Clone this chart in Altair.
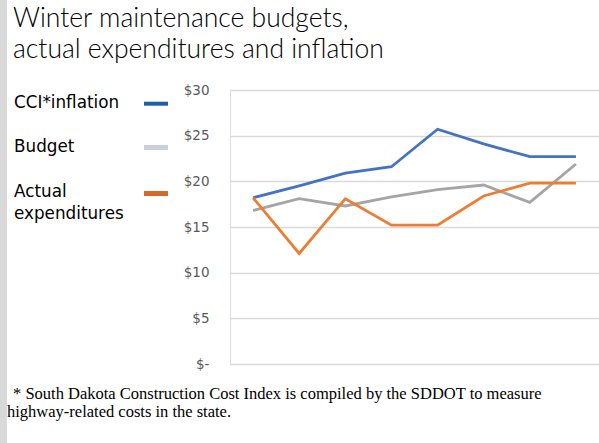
import altair as alt
import pandas as pd

periods = ["1", "2", "3", "4", "5", "6", "7", "8"]
cci_inflation = [18.2, 19.5, 20.9, 21.6, 25.7, 24.1, 22.7, 22.7]
budget = [16.8, 18.1, 17.3, 18.3, 19.1, 19.6, 17.7, 21.9]
actual = [18.2, 12.1, 18.1, 15.2, 15.2, 18.4, 19.8, 19.8]
series_names = ["CCI*inflation", "Budget", "Actual expenditures"]
line_colors = ["#4472c4", "#a5a5a5", "#ed7d31"]
swatch_colors = ["#1f5ea8", "#c9cfe0", "#d4692a"]
y_ticks = [0, 5, 10, 15, 20, 25, 30]
title_lines = ["Winter maintenance budgets,", "actual expenditures and inflation"]
footnote_lines = ["* South Dakota Construction Cost Index is compiled by the SDDOT to measure",
                  "highway-related costs in the state."]

rows = []
for name, vals in zip(series_names, [cci_inflation, budget, actual]):
    for p, v in zip(periods, vals):
        rows.append({"period": p, "series": name, "value": v})
df = pd.DataFrame(rows)

one = pd.DataFrame({"k": [0]})

W, H = 369, 274

lines = alt.Chart(df).mark_line(strokeWidth=2.8, strokeJoin="miter").encode(
    x=alt.X("period:N", sort=periods, axis=None,
            scale=alt.Scale(type="point", padding=0.5)),
    y=alt.Y("value:Q", scale=alt.Scale(domain=[0, 30], nice=False),
            axis=alt.Axis(values=y_ticks, title=None, ticks=False, domain=False,
                          grid=True, gridColor="#d9d9d9", gridWidth=1.3,
                          labelExpr="datum.value == 0 ? '$-' : '$' + datum.value",
                          labelFont="DejaVu Sans", labelFontSize=13.5,
                          labelColor="#595959", labelPadding=21)),
    color=alt.Color("series:N", scale=alt.Scale(domain=series_names, range=line_colors),
                    legend=None),
    order=alt.Order("period:N"),
)

def txt(text, x, y, size, font, color="#000000", baseline="alphabetic", weight="normal"):
    return alt.Chart(one).mark_text(text=text, align="left", baseline=baseline,
                                    font=font, fontSize=size, color=color,
                                    fontWeight=weight).encode(
        x=alt.value(x), y=alt.value(y))

def rect(x, x2, y, y2, color):
    return alt.Chart(one).mark_rect(color=color).encode(
        x=alt.value(x), x2=alt.value(x2), y=alt.value(y), y2=alt.value(y2))

layers = [
    rect(-230, -223, -90, 353, "#d9d9d9"),
    txt(title_lines[0], -217, -63, 26.5, "Lato", weight=300),
    txt(title_lines[1], -217, -32, 26.5, "Lato", weight=300),
    txt("CCI*inflation", -216, 13, 16.8, "DejaVu Sans", baseline="middle"),
    txt("Budget", -216, 57, 16.8, "DejaVu Sans", baseline="middle"),
    txt("Actual", -216, 102, 16.8, "DejaVu Sans", baseline="middle"),
    txt("expenditures", -216, 124, 16.8, "DejaVu Sans", baseline="middle"),
    rect(-86, -62, 11.7, 15.7, swatch_colors[0]),
    rect(-86, -62, 55, 60, swatch_colors[1]),
    rect(-86, -62, 101, 106, swatch_colors[2]),
    txt(footnote_lines[0], -217, 308.5, 16.5, "Liberation Serif"),
    txt(footnote_lines[1], -223, 326.5, 16.5, "Liberation Serif"),
    lines,
]

chart = alt.layer(*layers).properties(
    width=W, height=H,
    autosize=alt.AutoSizeParams(type="none"),
    padding={"left": 230, "top": 90, "right": 0, "bottom": 79},
).configure_view(stroke=None).configure(background="white")

chart.save("out.html", embed_options={"renderer": "svg", "actions": False})
